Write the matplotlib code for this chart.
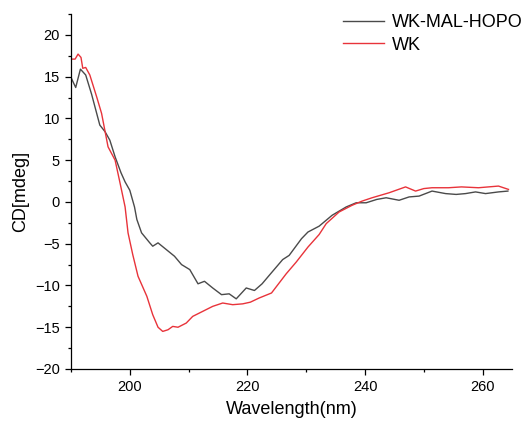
import matplotlib
matplotlib.use("Agg")
import matplotlib.pyplot as plt
from matplotlib.ticker import MultipleLocator

# CD spectra (wavelength in nm, ellipticity in mdeg)
wk_mal_hopo_x = [190, 190.8, 191.6, 192.5, 193.5, 194.9, 195.8, 196.6, 197.5, 198.5,
                 199.2, 200, 200.8, 201.2, 202, 203.4, 203.9, 204.8, 206.2, 207.6,
                 208.8, 210.2, 211.6, 212.7, 214.1, 215.6, 216.9, 218.1, 219.8, 221.2,
                 222.5, 223.7, 226, 227.1, 229.2, 230.3, 232.2, 234.4, 236.8, 238.5,
                 240.2, 242, 243.6, 245.8, 247.5, 249.2, 251.4, 253.7, 255.5, 257.1,
                 258.8, 260.5, 262.7, 264.3]
wk_mal_hopo_y = [14.9, 13.7, 15.9, 15.2, 12.9, 9.2, 8.4, 7.4, 5.4, 3.5,
                 2.4, 1.4, -0.6, -2.1, -3.7, -4.9, -5.3, -4.9, -5.7, -6.5,
                 -7.5, -8.1, -9.8, -9.5, -10.3, -11.1, -11.0, -11.6, -10.3, -10.6,
                 -9.8, -8.8, -6.9, -6.4, -4.4, -3.6, -2.9, -1.6, -0.6, -0.1,
                 -0.1, 0.3, 0.5, 0.2, 0.6, 0.7, 1.3, 1.0, 0.9, 1.0,
                 1.2, 1.0, 1.2, 1.3]

wk_x = [190, 190.7, 191.2, 191.7, 192, 192.5, 193.2, 194.4, 195.2, 196.3,
        197.5, 198.3, 199.2, 199.7, 200.5, 201.4, 202.9, 203.9, 204.8, 205.6,
        206.5, 207.3, 208.2, 209.6, 210.7, 212.4, 214.1, 215.8, 217.5, 219.2,
        220.5, 222, 224.1, 226.6, 228.3, 230.3, 232.2, 233.4, 235.6, 237.8,
        239.5, 241.2, 244.1, 246.9, 248.6, 250, 251.4, 254.2, 256.4, 259.3,
        262.7, 264.4]
wk_y = [17.1, 17.1, 17.7, 17.3, 16.0, 16.1, 15.2, 12.5, 10.6, 6.6,
        5.0, 2.4, -0.6, -3.7, -6.3, -8.9, -11.3, -13.5, -15.0, -15.5,
        -15.3, -14.9, -15.0, -14.5, -13.7, -13.1, -12.5, -12.1, -12.3, -12.2,
        -12.0, -11.5, -10.9, -8.6, -7.2, -5.4, -3.9, -2.6, -1.2, -0.4,
        0.1, 0.5, 1.1, 1.8, 1.3, 1.6, 1.7, 1.7, 1.8, 1.7,
        1.9, 1.5]

series_labels = ["WK-MAL-HOPO", "WK"]
x_ticks = [200, 220, 240, 260]
y_ticks = [-20, -15, -10, -5, 0, 5, 10, 15, 20]

plt.rcParams['font.family'] = ['Liberation Sans', 'DejaVu Sans']

fig = plt.figure(figsize=(5.29, 4.26), dpi=100)
ax = fig.add_axes([71/529, 1 - 369/426, (512 - 71)/529, (369 - 14)/426])

ax.plot(wk_mal_hopo_x, wk_mal_hopo_y, color='#4a4a4a', lw=1.0, label=series_labels[0])
ax.plot(wk_x, wk_y, color='#e8333a', lw=1.0, label=series_labels[1])

ax.set_xlim(190, 265)
ax.set_ylim(-20, 22.5)
ax.set_xticks(x_ticks)
ax.set_yticks(y_ticks)
ax.xaxis.set_minor_locator(MultipleLocator(10))
ax.yaxis.set_minor_locator(MultipleLocator(2.5))

for side in ('top', 'right'):
    ax.spines[side].set_visible(False)
for side in ('left', 'bottom'):
    ax.spines[side].set_linewidth(0.9)

ax.tick_params(which='major', direction='out', length=4, width=0.9, labelsize=10.5, pad=4)
ax.tick_params(which='minor', direction='out', length=2.5, width=0.9)

ax.set_xlabel('Wavelength(nm)', fontsize=13, labelpad=5)
ax.set_ylabel('CD[mdeg]', fontsize=13, labelpad=4)

ax.legend(loc='upper right', bbox_to_anchor=(1.04, 1.02), frameon=False, fontsize=13,
          handlelength=2.3, handletextpad=0.4, labelspacing=0.3, borderaxespad=0.0)

fig.savefig('out.png', dpi=100)
